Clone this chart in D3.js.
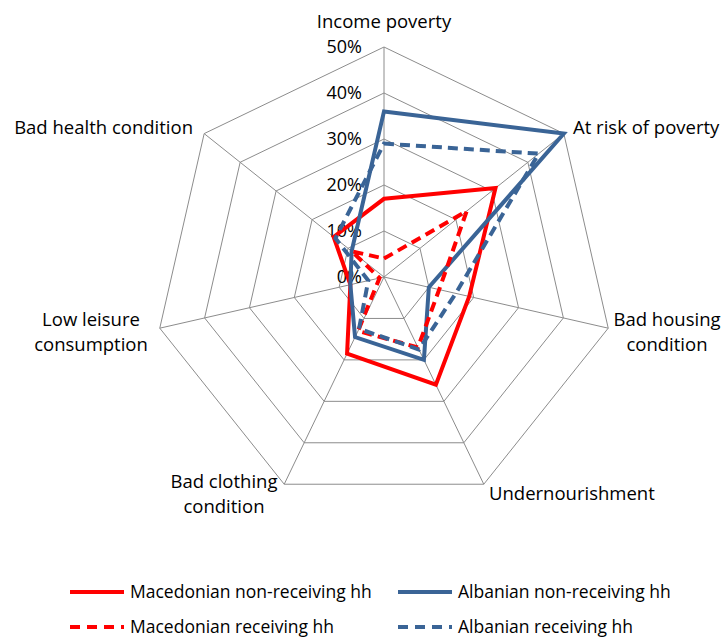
<!DOCTYPE html>
<html>
<head>
<meta charset="utf-8">
<script src="https://cdn.jsdelivr.net/npm/d3@7"></script>
<style>
  html, body { margin: 0; padding: 0; background: #fff; }
  svg text { font-family: "Open Sans", Lato, sans-serif; fill: #000; }
</style>
</head>
<body>
<svg id="chart" width="728" height="639"></svg>
<script>
// ---- data ----
const categories = ["Income poverty", "At risk of poverty", "Bad housing condition", "Undernourishment", "Bad clothing condition", "Low leisure consumption", "Bad health condition"];
const macedonianNonReceiving = [0.17, 0.31, 0.19, 0.26, 0.185, 0.075, 0.14];
const albanianNonReceiving   = [0.36, 0.50, 0.10, 0.20, 0.145, 0.075, 0.09];
const macedonianReceiving    = [0.04, 0.23, 0.123, 0.17, 0.13, 0.01, 0.09];
const albanianReceiving      = [0.29, 0.43, 0.16, 0.175, 0.125, 0.035, 0.135];
const tickValues = [0, 0.1, 0.2, 0.3, 0.4, 0.5];
const seriesNames = ["Macedonian non-receiving hh", "Albanian non-receiving hh", "Macedonian receiving hh", "Albanian receiving hh"];

const series = [
  { name: seriesNames[0], values: macedonianNonReceiving, color: "#ff0000", dash: null },
  { name: seriesNames[1], values: albanianNonReceiving,   color: "#3a6496", dash: null },
  { name: seriesNames[2], values: macedonianReceiving,    color: "#ff0000", dash: "10,6" },
  { name: seriesNames[3], values: albanianReceiving,      color: "#3a6496", dash: "10,6" }
];

const svg = d3.select("#chart");
const cx = 384, cy = 277, R = 230;
const r = d3.scaleLinear().domain([0, 0.5]).range([0, R]);
const angle = d3.scaleLinear().domain([0, categories.length]).range([0, 2 * Math.PI]);
const pt = (i, v) => [cx + r(v) * Math.sin(angle(i)), cy - r(v) * Math.cos(angle(i))];

const grid = svg.append("g");
// rings
tickValues.filter(t => t > 0).forEach(t => {
  grid.append("path")
    .attr("d", d3.line()(categories.map((c, i) => pt(i, t))) + "Z")
    .attr("fill", "none").attr("stroke", "#8c8c8c").attr("stroke-width", 1);
});
// spokes
categories.forEach((c, i) => {
  const [x, y] = pt(i, 0.5);
  grid.append("line").attr("x1", cx).attr("y1", cy).attr("x2", x).attr("y2", y)
    .attr("stroke", "#8c8c8c").attr("stroke-width", 1);
});

// tick labels
svg.append("g").selectAll("text").data(tickValues).join("text")
  .attr("x", cx - 22).attr("y", d => cy - r(d))
  .attr("dy", "0.35em").attr("text-anchor", "end")
  .style("font-size", "18px")
  .text(d3.format(".0%"));

// series
const line = d3.lineRadial().angle((d, i) => angle(i)).radius(d => r(d)).curve(d3.curveLinearClosed);
const sg = svg.append("g").attr("transform", `translate(${cx},${cy})`);
series.forEach(s => {
  sg.append("path").attr("d", line(s.values))
    .attr("fill", "none").attr("stroke", s.color).attr("stroke-width", 4)
    .attr("stroke-linejoin", "miter")
    .attr("stroke-dasharray", s.dash);
});

// category labels
const labelPos = [
  { x: 384, y: 22, anchor: "middle" },
  { x: 573, y: 128, anchor: "start" },
  { x: 667, y: 320, anchor: "middle" },
  { x: 489, y: 494, anchor: "start" },
  { x: 224, y: 482, anchor: "middle" },
  { x: 91, y: 320, anchor: "middle" },
  { x: 193, y: 128, anchor: "end" }
];
const wrapped = {
  "Bad housing condition": ["Bad housing", "condition"],
  "Bad clothing condition": ["Bad clothing", "condition"],
  "Low leisure consumption": ["Low leisure", "consumption"]
};
categories.forEach((c, i) => {
  const p = labelPos[i];
  const lines = wrapped[c] || [c];
  const t = svg.append("text").attr("x", p.x).attr("y", p.y).attr("text-anchor", p.anchor)
    .style("font-size", "18.5px");
  lines.forEach((l, k) => {
    t.append("tspan").attr("x", p.x).attr("dy", k === 0 ? "0.35em" : "25px").text(l);
  });
});

// legend
const legendPos = [[70, 592], [398, 592], [70, 627], [398, 627]];
series.forEach((s, i) => {
  const [x, y] = legendPos[i];
  const g = svg.append("g");
  g.append("line").attr("x1", x).attr("x2", x + 54).attr("y1", y).attr("y2", y)
    .attr("stroke", s.color).attr("stroke-width", 4).attr("stroke-dasharray", s.dash ? "10,7" : null);
  g.append("text").attr("x", x + 60).attr("y", y).attr("dy", "0.35em")
    .style("font-size", "17.5px").text(s.name);
});
</script>
</body>
</html>
